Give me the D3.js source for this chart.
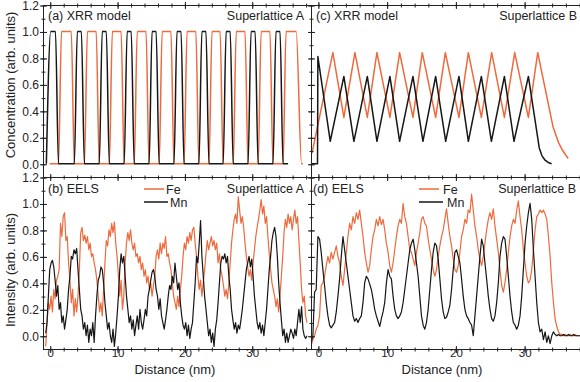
<!DOCTYPE html>
<html>
<head>
<meta charset="utf-8">
<script src="https://cdn.jsdelivr.net/npm/d3@7"></script>
<style>
  html, body { margin: 0; padding: 0; background: #fff; }
  svg { display: block; font-family: "Liberation Sans", Arial, sans-serif; }
</style>
</head>
<body>
<div id="app"></div>
<script>
// ---- data (distance in nm, value in arb. units) ----

// (a) XRR model, superlattice A: layer profile vertices
const mnModelA = [
  [-0.5, 0], [0.15, 1], [0.85, 1], [1.3, 0],
  [3.65, 0], [4.1, 1], [4.7, 1], [5.15, 0],
  [7.35, 0], [7.8, 1], [8.4, 1], [8.85, 0],
  [11.05, 0], [11.5, 1], [12.1, 1], [12.55, 0],
  [14.75, 0], [15.2, 1], [15.8, 1], [16.25, 0],
  [18.45, 0], [18.9, 1], [19.5, 1], [19.95, 0],
  [22.15, 0], [22.6, 1], [23.2, 1], [23.65, 0],
  [25.75, 0], [26.2, 1], [26.8, 1], [27.25, 0],
  [29.45, 0], [29.9, 1], [30.5, 1], [30.95, 0],
  [33.15, 0], [33.6, 1], [34.2, 1], [34.65, 0],
  [35.4, 0]
];
const feModelA = [
  [0, 0], [1.3, 0], [1.75, 1], [3.2, 1], [3.65, 0],
  [5.15, 0], [5.6, 1], [6.9, 1], [7.35, 0],
  [8.85, 0], [9.3, 1], [10.6, 1], [11.05, 0],
  [12.55, 0], [13.0, 1], [14.3, 1], [14.75, 0],
  [16.25, 0], [16.7, 1], [18.0, 1], [18.45, 0],
  [19.95, 0], [20.4, 1], [21.7, 1], [22.15, 0],
  [23.65, 0], [24.1, 1], [25.3, 1], [25.75, 0],
  [27.25, 0], [27.7, 1], [29.0, 1], [29.45, 0],
  [30.95, 0], [31.4, 1], [32.7, 1], [33.15, 0],
  [34.65, 0], [35.1, 1], [36.6, 1], [37.4, 0],
  [37.6, 0]
];

// (c) XRR model, superlattice B
const mnModelB = [
  [-0.85, 0], [-0.05, 0], [0, 0.81], [1.8, 0.17], [3.78, 0.66], [5.24, 0.17],
  [7.19, 0.66], [8.59, 0.17], [10.48, 0.66], [11.89, 0.17], [13.83, 0.66],
  [15.28, 0.17], [17.13, 0.66], [18.59, 0.17], [20.52, 0.66], [21.89, 0.17],
  [23.78, 0.66], [25.24, 0.17], [27.13, 0.66], [28.53, 0.17], [30.62, 0.66],
  [32.2, 0.12], [32.6, 0.06], [33.0, 0.03], [33.5, 0.01], [34.0, 0]
];
const feModelB = [
  [-0.85, 0.08], [2.18, 0.84], [3.78, 0.35], [5.39, 0.84], [7.19, 0.35],
  [8.59, 0.84], [10.48, 0.35], [11.89, 0.84], [13.83, 0.35], [15.19, 0.84],
  [17.13, 0.35], [18.54, 0.84], [20.52, 0.35], [21.89, 0.84], [23.78, 0.35],
  [25.28, 0.84], [27.13, 0.35], [28.63, 0.84], [30.62, 0.35], [31.98, 0.84],
  [34.2, 0.28], [35.0, 0.16], [35.6, 0.1], [36.4, 0.04]
];

// (b) EELS, superlattice A: sampled from -0.6 nm every 0.2 nm
const eelsAStart = -0.6, eelsAStep = 0.2;
const feEelsA = [
  -0.08, 0.1, 0.25, 0.2, 0.3, 0.18, 0.35, 0.28, 0.42, 0.45,
  0.5, 0.85, 0.75, 0.9, 0.93, 0.72, 0.75, 0.55, 0.42, 0.25,
  0.35, 0.15, 0.28, 0.18, 0.3, 0.5, 0.78, 0.82, 0.72, 0.76,
  0.7, 0.75, 0.65, 0.7, 0.6, 0.62, 0.55, 0.5, 0.42, 0.3,
  0.18, 0.25, 0.15, 0.35, 0.55, 0.72, 0.68, 0.8, 0.75, 0.85,
  0.78, 0.86, 0.7, 0.6, 0.45, 0.3, 0.42, 0.2, 0.3, 0.55,
  0.7, 0.78, 0.72, 0.8, 0.7, 0.65, 0.7, 0.6, 0.62, 0.55,
  0.6, 0.5, 0.55, 0.45, 0.5, 0.4, 0.45, 0.35, 0.4, 0.3,
  0.38, 0.45, 0.6, 0.65, 0.58, 0.7, 0.62, 0.7, 0.66, 0.75,
  0.6, 0.62, 0.55, 0.5, 0.4, 0.3, 0.25, 0.2, 0.3, 0.22,
  0.35, 0.45, 0.6, 0.7, 0.65, 0.75, 0.7, 0.78, 0.72, 0.8,
  0.82, 0.7, 0.6, 0.45, 0.35, 0.42, 0.3, 0.4, 0.5, 0.62,
  0.72, 0.65, 0.7, 0.75, 0.68, 0.72, 0.65, 0.7, 0.55, 0.62,
  0.5, 0.45, 0.38, 0.3, 0.35, 0.28, 0.4, 0.55, 0.7, 0.8,
  0.88, 0.92, 0.85, 1.05, 0.95, 0.85, 0.9, 0.82, 0.7, 0.6,
  0.52, 0.45, 0.5, 0.42, 0.55, 0.65, 0.75, 0.82, 0.88, 0.95,
  1.03, 0.92, 0.98, 0.85, 0.9, 0.75, 0.62, 0.5, 0.4, 0.35,
  0.3, 0.22, 0.28, 0.18, 0.3, 0.45, 0.6, 0.78, 0.88, 0.82,
  0.92, 0.85, 0.9, 0.8, 0.88, 0.95, 0.85, 0.9, 0.72, 0.55,
  0.35, 0.25, 0.3, 0.15, 0.1
];
const mnEelsA = [
  0.02, 0.1, 0.3, 0.5, 0.55, 0.57, 0.52, 0.42, 0.3, 0.38,
  0.2, 0.25, 0.1, 0.15, 0.05, 0.12, 0.2, 0.35, 0.45, 0.6,
  0.58, 0.65, 0.62, 0.66, 0.5, 0.35, 0.2, 0.15, 0.05, 0.1,
  0.0, 0.08, -0.05, 0.05, 0.0, 0.1, -0.05, 0.15, 0.3, 0.42,
  0.45, 0.52, 0.5, 0.4, 0.25, 0.15, 0.05, 0.1, 0.0, -0.05,
  0.05, -0.08, 0.02, 0.15, 0.3, 0.5, 0.62, 0.55, 0.6, 0.45,
  0.3, 0.2, 0.1, 0.15, 0.05, 0.12, 0.0, 0.08, 0.15, 0.05,
  0.2, 0.1, 0.05, 0.12, 0.2, 0.15, 0.3, 0.35, 0.42, 0.48,
  0.5, 0.45, 0.35, 0.3, 0.2, 0.28, 0.15, 0.1, 0.05, 0.12,
  0.2, 0.3, 0.38, 0.35, 0.45, 0.4, 0.55, 0.45, 0.35, 0.4,
  0.25, 0.15, 0.08, 0.05, 0.1, 0.0, 0.08, -0.02, 0.05, 0.1,
  0.25, 0.4, 0.6, 0.55, 0.7, 0.87, 0.6, 0.45, 0.3, 0.2,
  0.1, 0.0, 0.05, -0.05, 0.02, -0.08, 0.05, 0.12, 0.25, 0.4,
  0.55, 0.6, 0.58, 0.62, 0.55, 0.6, 0.45, 0.35, 0.2, 0.12,
  0.05, 0.1, 0.02, 0.08, 0.05, 0.12, 0.2, 0.3, 0.4, 0.5,
  0.55, 0.6, 0.52, 0.58, 0.45, 0.3, 0.2, 0.1, 0.05, 0.1,
  0.02, 0.08, 0.0, 0.1, 0.2, 0.35, 0.5, 0.6, 0.72, 0.78,
  0.82, 0.75, 0.6, 0.4, 0.25, 0.12, 0.0, 0.05, -0.05, 0.02,
  -0.05, 0.0, 0.05, 0.02, -0.02, 0.05, 0.0, 0.1, 0.2, 0.1,
  0.22, 0.05, 0.0, -0.02, 0.0
];

// (d) EELS, superlattice B: sampled from -0.97 nm every 0.243 nm
const eelsBStart = -0.97, eelsBStep = 0.243;
const feEelsB = [
  -0.07, -0.03, 0.0, 0.05, 0.08, 0.15, 0.38, 0.4, 0.45, 0.53,
  0.6, 0.55, 0.63, 0.58, 0.63, 0.68, 0.6, 0.55, 0.45, 0.38,
  0.5, 0.63, 0.75, 0.85, 0.8, 0.9, 0.85, 0.93, 0.88, 0.95,
  0.85, 0.75, 0.63, 0.55, 0.48, 0.53, 0.65, 0.75, 0.8, 0.88,
  0.83, 0.9, 0.84, 0.88, 0.8, 0.7, 0.63, 0.53, 0.48, 0.55,
  0.65, 0.75, 0.83, 0.88, 0.85, 1.0, 0.9, 0.85, 0.75, 0.65,
  0.63, 0.58, 0.53, 0.63, 0.7, 0.78, 0.88, 0.9, 0.85, 0.83,
  0.73, 0.65, 0.58, 0.5, 0.45, 0.5, 0.6, 0.68, 0.75, 0.8,
  0.88, 0.96, 0.85, 0.75, 0.68, 0.58, 0.5, 0.48, 0.53, 0.63,
  0.75, 0.8, 0.88, 0.85, 0.95, 0.93, 1.07, 0.95, 0.83, 0.75,
  0.65, 0.58, 0.53, 0.6, 0.7, 0.8, 0.88, 0.93, 0.88, 0.96,
  0.83, 0.73, 0.63, 0.5, 0.38, 0.33, 0.4, 0.5, 0.63, 0.75,
  0.83, 0.88, 0.85, 0.95, 1.02, 0.9, 0.8, 0.65, 0.55, 0.45,
  0.4, 0.42, 0.5, 0.65, 0.8, 0.9, 0.92, 0.95, 0.93, 0.95,
  0.92, 0.88, 0.75, 0.6, 0.4, 0.25, 0.13, 0.07, 0.03, 0.01,
  0.01, 0.0, 0.01, 0.0, 0.0, 0.01, 0.0, 0.0, 0.01, 0.0,
  0.0, 0.0
];
const mnEelsB = [
  -0.05, 0.0, 0.33, 0.35, 0.75, 0.73, 0.63, 0.5, 0.38, 0.25,
  0.15, 0.08, 0.06, 0.08, 0.1, 0.18, 0.3, 0.43, 0.6, 0.75,
  0.65, 0.55, 0.45, 0.35, 0.25, 0.15, 0.11, 0.13, 0.1, 0.13,
  0.15, 0.25, 0.4, 0.45, 0.43, 0.39, 0.35, 0.28, 0.2, 0.15,
  0.11, 0.07, 0.13, 0.18, 0.25, 0.4, 0.5, 0.45, 0.43, 0.3,
  0.2, 0.15, 0.13, 0.15, 0.18, 0.25, 0.35, 0.45, 0.55, 0.65,
  0.7, 0.73, 0.65, 0.55, 0.45, 0.3, 0.15, 0.08, 0.05, 0.1,
  0.2, 0.35, 0.5, 0.63, 0.7, 0.68, 0.58, 0.43, 0.28, 0.18,
  0.13, 0.14, 0.18, 0.23, 0.35, 0.5, 0.63, 0.65, 0.6, 0.55,
  0.43, 0.3, 0.2, 0.15, 0.13, 0.1, 0.08, 0.0, 0.15, 0.3,
  0.45, 0.6, 0.73, 0.68, 0.55, 0.43, 0.3, 0.2, 0.13, 0.11,
  0.15, 0.25, 0.4, 0.6, 0.7, 0.75, 0.73, 0.6, 0.45, 0.3,
  0.18, 0.1, 0.08, 0.05, 0.08, 0.15, 0.3, 0.5, 0.7, 0.83,
  0.93, 1.0, 0.88, 0.65, 0.45, 0.25, 0.1, 0.03, 0.05, -0.03,
  0.03, -0.05, 0.0, -0.06, 0.0, 0.03, 0.01, 0.0, 0.01, 0.0,
  0.0, 0.01, 0.0, 0.0, 0.01, 0.0, 0.0, 0.01, 0.0, 0.0,
  0.0, 0.0
];

const xMajor = [0, 10, 20, 30];
const yMajor = [0, 0.2, 0.4, 0.6, 0.8, 1.0, 1.2];
const panelTags = ['(a) XRR model', '(b) EELS', '(c) XRR model', '(d) EELS'];
const sampleNames = ['Superlattice A', 'Superlattice A', 'Superlattice B', 'Superlattice B'];
const seriesNames = ['Fe', 'Mn'];

// ---- layout ----
const width = 580, height = 382;
const feColor = '#ee6a3c', mnColor = '#161616';
const font = '"Liberation Sans", Arial, sans-serif';

const svg = d3.select('#app').append('svg')
  .attr('width', width).attr('height', height);

const xLeft = d3.scaleLinear().domain([-1, 38.8]).range([43, 311]);
const xRight = d3.scaleLinear().domain([-1, 39]).range([311, 586]);
const yTop = d3.scaleLinear().domain([-0.1, 1.2]).range([177, 5]);
const yBottom = d3.scaleLinear().domain([-0.1, 1.2]).range([349, 177]);

const sampled = (vals, start, step) => vals.map((v, i) => [start + i * step, v]);

const panels = [
  { x: xLeft, y: yTop, fe: feModelA, mn: mnModelA, curve: d3.curveMonotoneX, lw: 1.5 },
  { x: xLeft, y: yBottom, fe: sampled(feEelsA, eelsAStart, eelsAStep),
    mn: sampled(mnEelsA, eelsAStart, eelsAStep), curve: d3.curveLinear, lw: 1.2 },
  { x: xRight, y: yTop, fe: feModelB, mn: mnModelB, curve: d3.curveLinear, lw: 1.5 },
  { x: xRight, y: yBottom, fe: sampled(feEelsB, eelsBStart, eelsBStep),
    mn: sampled(mnEelsB, eelsBStart, eelsBStep), curve: d3.curveLinear, lw: 1.2 }
];

const defs = svg.append('defs');

panels.forEach((p, i) => {
  const [x0, x1] = p.x.range();
  const [y1, y0] = p.y.range();
  defs.append('clipPath').attr('id', 'clip' + i)
    .append('rect').attr('x', x0).attr('y', y0).attr('width', x1 - x0).attr('height', y1 - y0);

  const g = svg.append('g').attr('clip-path', `url(#clip${i})`);
  const line = d3.line().x(d => p.x(d[0])).y(d => p.y(d[1])).curve(p.curve);

  g.append('path').datum(p.fe).attr('d', line)
    .attr('fill', 'none').attr('stroke', feColor).attr('stroke-width', p.lw)
    .attr('stroke-linejoin', 'round');
  g.append('path').datum(p.mn).attr('d', line)
    .attr('fill', 'none').attr('stroke', mnColor).attr('stroke-width', p.lw)
    .attr('stroke-linejoin', 'round');

  // frame
  svg.append('rect')
    .attr('x', x0 + 0.5).attr('y', y0 + 0.5)
    .attr('width', x1 - x0).attr('height', y1 - y0)
    .attr('fill', 'none').attr('stroke', '#222').attr('stroke-width', 1);
});

// crossing tick marks on every frame edge
function xTicks(scale, y) {
  [[xMajor, 7], [d3.range(0, 39, 2), 4]].forEach(([vals, len]) => {
    const g = svg.append('g').attr('transform', `translate(0.5,${y + 0.5 - len / 2})`)
      .call(d3.axisBottom(scale).tickValues(vals).tickSize(len).tickFormat(''));
    g.select('.domain').remove();
    g.selectAll('line').attr('stroke', '#222');
  });
}
function yTicks(scale, x) {
  [[yMajor, 7], [d3.range(0, 13).map(k => k / 10), 4]].forEach(([vals, len]) => {
    const g = svg.append('g').attr('transform', `translate(${x + 0.5 - len / 2},0.5)`)
      .call(d3.axisRight(scale).tickValues(vals).tickSize(len).tickFormat(''));
    g.select('.domain').remove();
    g.selectAll('line').attr('stroke', '#222');
  });
}
[5, 177, 349].forEach(y => { xTicks(xLeft, y); xTicks(xRight, y); });
[43, 311].forEach(x => { yTicks(yTop, x); yTicks(yBottom, x); });

// tick labels
[yTop, yBottom].forEach(sc => {
  const g = svg.append('g').attr('transform', 'translate(43,0.5)')
    .call(d3.axisLeft(sc).tickValues(yMajor).tickSize(0).tickPadding(4).tickFormat(d3.format('.1f')));
  g.select('.domain').remove();
  g.attr('font-size', 12).attr('font-family', font);
  g.selectAll('text').attr('fill', '#222');
});
[xLeft, xRight].forEach(sc => {
  const g = svg.append('g').attr('transform', 'translate(0.5,349)')
    .call(d3.axisBottom(sc).tickValues(xMajor).tickSize(0).tickPadding(0).tickFormat(d3.format('d')));
  g.select('.domain').remove();
  g.attr('font-size', 11.5).attr('font-family', font);
  g.selectAll('text').attr('fill', '#222');
});

// axis titles
svg.append('text').attr('transform', 'translate(14.5,85) rotate(-90)')
  .attr('text-anchor', 'middle').attr('font-size', 13).attr('fill', '#222')
  .text('Concentration (arb. units)');
svg.append('text').attr('transform', 'translate(14.5,270) rotate(-90)')
  .attr('text-anchor', 'middle').attr('font-size', 13).attr('fill', '#222')
  .text('Intensity (arb. units)');
svg.append('text').attr('x', 175).attr('y', 374).attr('text-anchor', 'middle')
  .attr('font-size', 13).attr('fill', '#222').text('Distance (nm)');
svg.append('text').attr('x', 442).attr('y', 374).attr('text-anchor', 'middle')
  .attr('font-size', 13).attr('fill', '#222').text('Distance (nm)');

// panel tags and sample names
const tagPos = [[48, 19.5], [48, 192.5], [316, 19.5], [313, 192.5]];
const namePos = [[304, 19.5], [304, 192.5], [577, 19.5], [576, 192.5]];
panelTags.forEach((t, i) => {
  svg.append('text').attr('x', tagPos[i][0]).attr('y', tagPos[i][1])
    .attr('font-size', 12.5).attr('fill', '#222').text(t);
  svg.append('text').attr('x', namePos[i][0]).attr('y', namePos[i][1])
    .attr('text-anchor', 'end').attr('font-size', 12.5).attr('fill', '#222').text(sampleNames[i]);
});

// legends in the EELS panels
[[144, 166], [419, 443]].forEach(([lx, tx]) => {
  seriesNames.forEach((s, k) => {
    const yy = 189 + k * 13;
    svg.append('line').attr('x1', lx).attr('x2', lx + 20 + k * 4).attr('y1', yy).attr('y2', yy)
      .attr('stroke', k === 0 ? feColor : mnColor).attr('stroke-width', 1.5);
    svg.append('text').attr('x', tx + k * 4).attr('y', yy + 4.5)
      .attr('font-size', 12.5).attr('fill', '#222').text(s);
  });
});
</script>
</body>
</html>
